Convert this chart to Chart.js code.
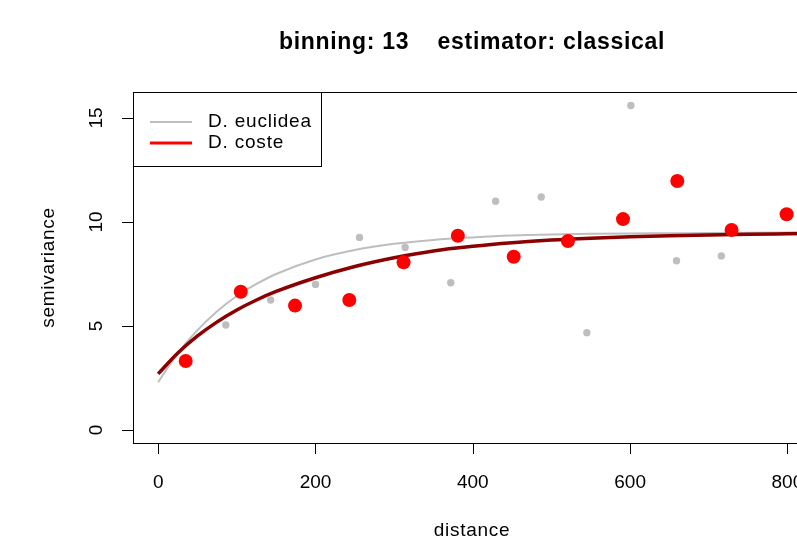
<!DOCTYPE html>
<html lang="en">
<head>
  <meta charset="UTF-8">
  <meta name="viewport" content="width=device-width, initial-scale=1.0">
  <title>Semivariogram</title>
  <style>
    html, body { margin: 0; padding: 0; background: #fff; overflow: hidden; }
    canvas { display: block; }
  </style>
</head>
<body>
  <canvas id="graphic" width="830" height="542"></canvas>

  <script src="https://cdn.jsdelivr.net/npm/chart.js"></script>

  <script>
    // texts
    const titleText = "binning: 13    estimator: classical";
    const xLabel = "distance";
    const yLabel = "semivariance";
    const seriesNames = ["D. euclidea", "D. coste"];
    const xTicks = [0, 200, 400, 600, 800];
    const yTicks = [0, 5, 10, 15];

    // empirical semivariogram, euclidean distance (grey dots)
    const euclidDist = [86, 143, 200, 256, 314, 372, 429, 487, 545, 601, 659, 716];
    const euclidGamma = [5.05, 6.25, 7.0, 9.26, 8.78, 7.08, 11.0, 11.2, 4.68, 15.6, 8.14, 8.37];

    // empirical semivariogram, cost distance (red dots)
    const costDist = [35, 105, 174, 243, 312, 381, 452, 521, 591, 660, 729, 799];
    const costGamma = [3.32, 6.65, 5.98, 6.25, 8.06, 9.34, 8.33, 9.09, 10.14, 11.97, 9.62, 10.37];

    // fitted model curves
    const curveDist = [0, 25, 50, 75, 100, 125, 150, 200, 250, 300, 350, 400, 450, 500, 550, 600, 650, 700, 750, 800, 850];
    const euclidFit = [2.30, 3.69, 4.80, 5.71, 6.44, 7.02, 7.50, 8.20, 8.65, 8.95, 9.14, 9.26, 9.35, 9.40, 9.43, 9.45, 9.46, 9.47, 9.48, 9.49, 9.50];
    const costFit = [2.70, 3.70, 4.52, 5.20, 5.77, 6.25, 6.66, 7.32, 7.86, 8.28, 8.61, 8.83, 9.00, 9.13, 9.22, 9.29, 9.34, 9.38, 9.41, 9.43, 9.45];

    const gris = "#bebebe";
    const rojo = "#ff0000";
    const rojoOscuro = "#8b0000";
    const fuente = "'Liberation Sans', Arial, Helvetica, sans-serif";

    const toXY = (xs, ys) => xs.map((v, i) => ({ x: v, y: ys[i] }));

    // R style box, axes, labels and legend
    const rAxes = {
      id: "rAxes",
      afterDraw(chart) {
        const { ctx, chartArea: a, scales: { x, y } } = chart;
        ctx.save();
        ctx.strokeStyle = "#000";
        ctx.fillStyle = "#000";
        ctx.lineWidth = 1;

        // box
        ctx.strokeRect(a.left + 0.5, a.top + 0.5, a.right - a.left, a.bottom - a.top);

        // x axis
        const tl = 11;
        ctx.beginPath();
        ctx.moveTo(Math.round(x.getPixelForValue(xTicks[0])) + 0.5, a.bottom + 0.5);
        ctx.lineTo(Math.round(x.getPixelForValue(xTicks[xTicks.length - 1])) + 0.5, a.bottom + 0.5);
        xTicks.forEach(t => {
          const px = Math.round(x.getPixelForValue(t)) + 0.5;
          ctx.moveTo(px, a.bottom);
          ctx.lineTo(px, a.bottom + tl);
        });
        ctx.stroke();
        ctx.font = "19px " + fuente;
        ctx.textAlign = "center";
        ctx.textBaseline = "middle";
        xTicks.forEach(t => ctx.fillText(String(t), x.getPixelForValue(t), 483));

        // y axis
        ctx.beginPath();
        ctx.moveTo(a.left + 0.5, Math.round(y.getPixelForValue(yTicks[0])) + 0.5);
        ctx.lineTo(a.left + 0.5, Math.round(y.getPixelForValue(yTicks[yTicks.length - 1])) + 0.5);
        yTicks.forEach(t => {
          const py = Math.round(y.getPixelForValue(t)) + 0.5;
          ctx.moveTo(a.left, py);
          ctx.lineTo(a.left - tl, py);
        });
        ctx.stroke();
        yTicks.forEach(t => {
          ctx.save();
          ctx.translate(97, y.getPixelForValue(t));
          ctx.rotate(-Math.PI / 2);
          ctx.fillText(String(t), 0, 0);
          ctx.restore();
        });

        // axis titles
        ctx.letterSpacing = "0.7px";
        const cx = (a.left + a.right) / 2;
        ctx.fillText(xLabel, cx, 531);
        ctx.save();
        ctx.translate(49, (a.top + a.bottom) / 2);
        ctx.rotate(-Math.PI / 2);
        ctx.fillText(yLabel, 0, 0);
        ctx.restore();

        // title
        ctx.font = "bold 23px " + fuente;
        ctx.fillText(titleText, cx, 43);

        // legend
        ctx.fillStyle = "#fff";
        ctx.fillRect(a.left, a.top, 188, 74);
        ctx.strokeStyle = "#000";
        ctx.strokeRect(a.left + 0.5, a.top + 0.5, 188, 74);
        const filas = [
          { name: seriesNames[0], color: gris, width: 2, y: a.top + 30 },
          { name: seriesNames[1], color: rojo, width: 3, y: a.top + 51 }
        ];
        ctx.font = "19px " + fuente;
        ctx.letterSpacing = "0.8px";
        ctx.textAlign = "left";
        filas.forEach(f => {
          ctx.strokeStyle = f.color;
          ctx.lineWidth = f.width;
          ctx.beginPath();
          ctx.moveTo(a.left + 17, f.y);
          ctx.lineTo(a.left + 59, f.y);
          ctx.stroke();
          ctx.fillStyle = "#000";
          ctx.fillText(f.name, a.left + 75, f.y);
        });

        ctx.restore();
      }
    };

    const lienzo = document.getElementById("graphic");

    new Chart(lienzo, {
      type: "scatter",
      data: {
        datasets: [
          {
            label: seriesNames[1] + " points",
            data: toXY(costDist, costGamma),
            backgroundColor: rojo,
            borderWidth: 0,
            pointRadius: 7,
            order: 0
          },
          {
            label: seriesNames[0] + " points",
            data: toXY(euclidDist, euclidGamma),
            backgroundColor: gris,
            borderWidth: 0,
            pointRadius: 3.7,
            order: 1
          },
          {
            label: seriesNames[1],
            data: toXY(curveDist, costFit),
            showLine: true,
            borderColor: rojoOscuro,
            borderWidth: 3.5,
            pointRadius: 0,
            cubicInterpolationMode: "monotone",
            order: 2
          },
          {
            label: seriesNames[0],
            data: toXY(curveDist, euclidFit),
            showLine: true,
            borderColor: gris,
            borderWidth: 2,
            pointRadius: 0,
            cubicInterpolationMode: "monotone",
            order: 3
          }
        ]
      },
      options: {
        responsive: false,
        animation: false,
        layout: { padding: { left: 133, top: 92, right: 19, bottom: 99 } },
        scales: {
          x: { type: "linear", min: -32, max: 830, display: false },
          y: { type: "linear", min: -0.625, max: 16.25, display: false }
        },
        plugins: {
          legend: { display: false },
          title: { display: false },
          tooltip: { enabled: false }
        }
      },
      plugins: [rAxes]
    });
  </script>
</body>
</html>
